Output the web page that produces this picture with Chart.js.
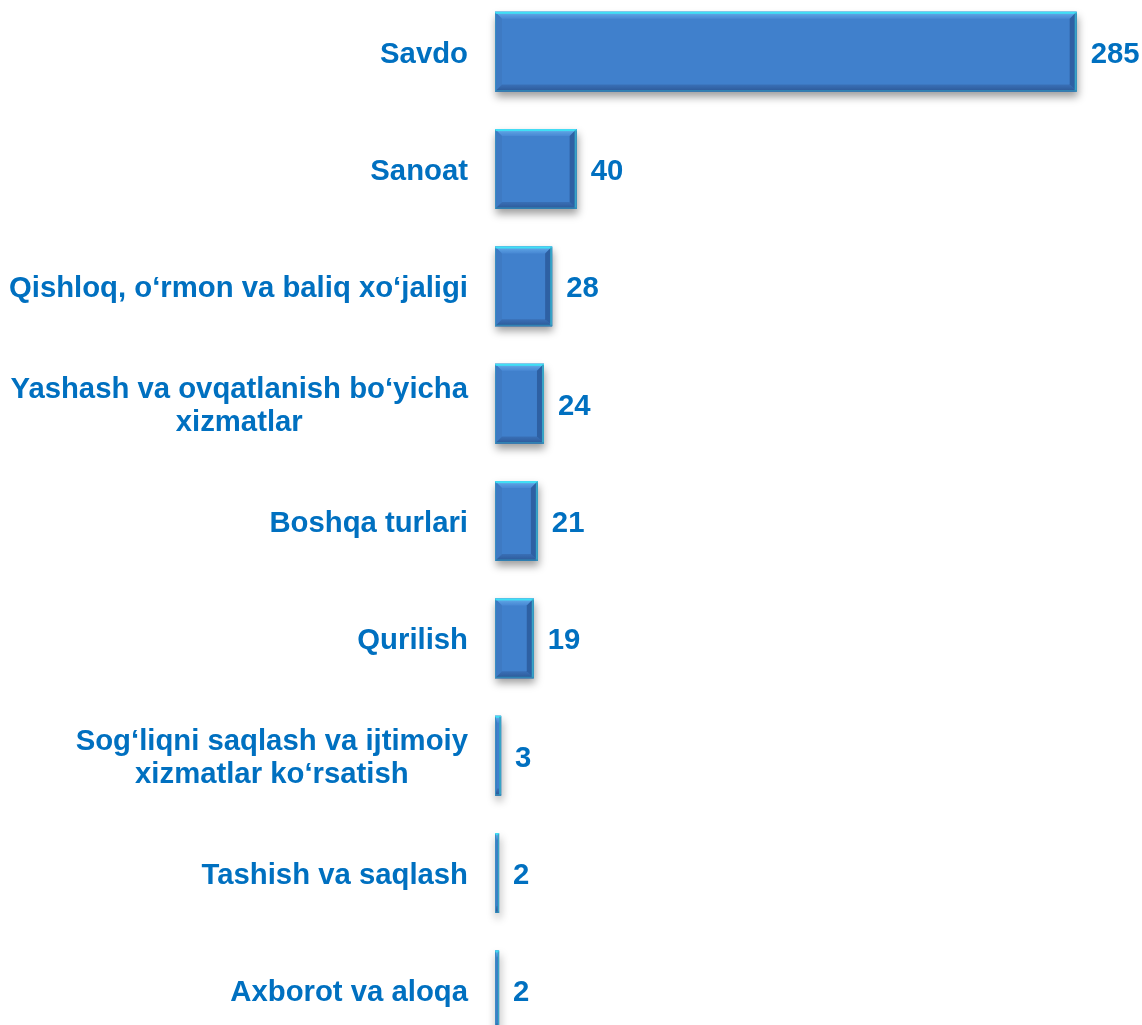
<!DOCTYPE html>
<html>
<head>
<meta charset="utf-8">
<script src="https://cdn.jsdelivr.net/npm/chart.js@4/dist/chart.umd.min.js"></script>
<style>
  html, body { margin: 0; padding: 0; background: #ffffff; overflow: hidden; }
  #wrap { position: absolute; left: 0; top: -7px; width: 1142px; height: 1056px; }
</style>
</head>
<body>
<div id="wrap"><canvas id="c"></canvas></div>
<script>
const categories = [
  "Savdo",
  "Sanoat",
  "Qishloq, o‘rmon va baliq xo‘jaligi",
  ["Yashash va ovqatlanish bo‘yicha", "xizmatlar"],
  "Boshqa turlari",
  "Qurilish",
  ["Sog‘liqni saqlash va ijtimoiy", "xizmatlar ko‘rsatish"],
  "Tashish va saqlash",
  "Axborot va aloqa"
];
const values = [285, 40, 28, 24, 21, 19, 3, 2, 2];

const TEXT_COLOR = '#0070C0';
const FONT = 'bold 29.3px "Liberation Sans", Arial, sans-serif';

function barGradient(ctx) {
  const chart = ctx.chart;
  const el = ctx.element;
  if (!chart.chartArea || !el) return '#4080CC';
  const y0 = el.y - el.height / 2, y1 = el.y + el.height / 2;
  if (!isFinite(y0) || !isFinite(y1) || y0 === y1) return '#4080CC';
  const g = chart.ctx.createLinearGradient(0, y0, 0, y1);
  g.addColorStop(0, '#4A8CDA');
  g.addColorStop(0.5, '#4180CC');
  g.addColorStop(1, '#3868AE');
  return g;
}

const shadowPlugin = {
  id: 'barShadow',
  beforeDatasetsDraw(chart) {
    const ctx = chart.ctx;
    const meta = chart.getDatasetMeta(0);
    ctx.save();
    meta.data.forEach(bar => {
      const x0 = bar.base, x1 = bar.x;
      const h = bar.height;
      const y0 = bar.y - h / 2;
      ctx.shadowColor = 'rgba(0,0,0,0.38)';
      ctx.shadowBlur = 8;
      ctx.shadowOffsetX = 1;
      ctx.shadowOffsetY = 5;
      ctx.fillStyle = '#3A6EB0';
      ctx.fillRect(x0, y0, x1 - x0, h);
    });
    ctx.restore();
  }
};

const bevelPlugin = {
  id: 'bevel',
  afterDatasetsDraw(chart) {
    const ctx = chart.ctx;
    const meta = chart.getDatasetMeta(0);
    ctx.save();
    meta.data.forEach(bar => {
      const x0 = bar.base, x1 = bar.x;
      const h = bar.height;
      const y0 = bar.y - h / 2, y1 = bar.y + h / 2;
      const w = x1 - x0;
      const b = Math.min(7, w / 3);
      const bv = 7;
      // top bevel
      let g = ctx.createLinearGradient(0, y0, 0, y0 + bv);
      g.addColorStop(0, 'rgba(110,185,240,0.95)');
      g.addColorStop(1, 'rgba(80,145,220,0.5)');
      ctx.fillStyle = g;
      ctx.beginPath();
      ctx.moveTo(x0, y0); ctx.lineTo(x1, y0); ctx.lineTo(x1 - b, y0 + bv); ctx.lineTo(x0 + b, y0 + bv); ctx.closePath();
      ctx.fill();
      // left bevel
      ctx.fillStyle = 'rgba(60,115,185,0.45)';
      ctx.beginPath();
      ctx.moveTo(x0, y0); ctx.lineTo(x0 + b, y0 + bv); ctx.lineTo(x0 + b, y1 - bv); ctx.lineTo(x0, y1); ctx.closePath();
      ctx.fill();
      // bottom bevel
      g = ctx.createLinearGradient(0, y1 - bv, 0, y1);
      g.addColorStop(0, 'rgba(50,95,160,0.5)');
      g.addColorStop(1, 'rgba(42,84,145,0.95)');
      ctx.fillStyle = g;
      ctx.beginPath();
      ctx.moveTo(x0, y1); ctx.lineTo(x1, y1); ctx.lineTo(x1 - b, y1 - bv); ctx.lineTo(x0 + b, y1 - bv); ctx.closePath();
      ctx.fill();
      // right bevel
      ctx.fillStyle = 'rgba(40,85,150,0.75)';
      ctx.beginPath();
      ctx.moveTo(x1, y0); ctx.lineTo(x1 - b, y0 + bv); ctx.lineTo(x1 - b, y1 - bv); ctx.lineTo(x1, y1); ctx.closePath();
      ctx.fill();
      // cyan top edge
      ctx.fillStyle = 'rgba(64,224,245,1)';
      ctx.fillRect(x0, y0, w, 2);
      // teal right edge
      ctx.fillStyle = 'rgba(56,168,200,0.95)';
      ctx.fillRect(x1 - Math.min(2, w / 3), y0 + 1, Math.min(2, w / 3), h - 1);
      // teal bottom edge
      ctx.fillStyle = 'rgba(50,140,185,0.85)';
      ctx.fillRect(x0, y1 - 1.5, w, 1.5);
      // left edge
      ctx.fillStyle = 'rgba(55,150,195,0.7)';
      ctx.fillRect(x0, y0 + 1, 1, h - 1);
    });
    ctx.restore();
  }
};

const labelPlugin = {
  id: 'labels',
  afterDraw(chart) {
    const ctx = chart.ctx;
    const yScale = chart.scales.y;
    const meta = chart.getDatasetMeta(0);
    ctx.save();
    ctx.font = FONT;
    ctx.fillStyle = TEXT_COLOR;
    ctx.textBaseline = 'middle';
    const rightEdge = chart.chartArea.left - 27;
    categories.forEach((lab, i) => {
      const cy = yScale.getPixelForValue(i);
      const lines = Array.isArray(lab) ? lab : [lab];
      const widest = Math.max(...lines.map(l => ctx.measureText(l).width));
      const cx = rightEdge - widest / 2;
      const lh = 33;
      const start = cy - (lines.length - 1) * lh / 2;
      ctx.textAlign = 'center';
      lines.forEach((l, k) => ctx.fillText(l, cx, start + k * lh + 3));
    });
    // value labels
    ctx.textAlign = 'left';
    meta.data.forEach((bar, i) => {
      ctx.fillText(String(values[i]), bar.x + 14, bar.y + 3);
    });
    ctx.restore();
  }
};

new Chart(document.getElementById('c'), {
  type: 'bar',
  data: {
    labels: categories,
    datasets: [{
      data: values,
      backgroundColor: barGradient,
      borderWidth: 0,
      barPercentage: 0.68,
      categoryPercentage: 1.0
    }]
  },
  options: {
    indexAxis: 'y',
    responsive: true,
    maintainAspectRatio: false,
    animation: false,
    layout: { padding: 0 },
    plugins: { legend: { display: false }, tooltip: { enabled: false } },
    scales: {
      x: {
        min: 0, max: 317,
        display: false,
        grid: { display: false }
      },
      y: {
        display: true,
        grid: { display: false, drawTicks: false },
        border: { display: false },
        ticks: { display: false },
        afterFit(scale) { scale.width = 495; }
      }
    }
  },
  plugins: [shadowPlugin, bevelPlugin, labelPlugin]
});
</script>
</body>
</html>
